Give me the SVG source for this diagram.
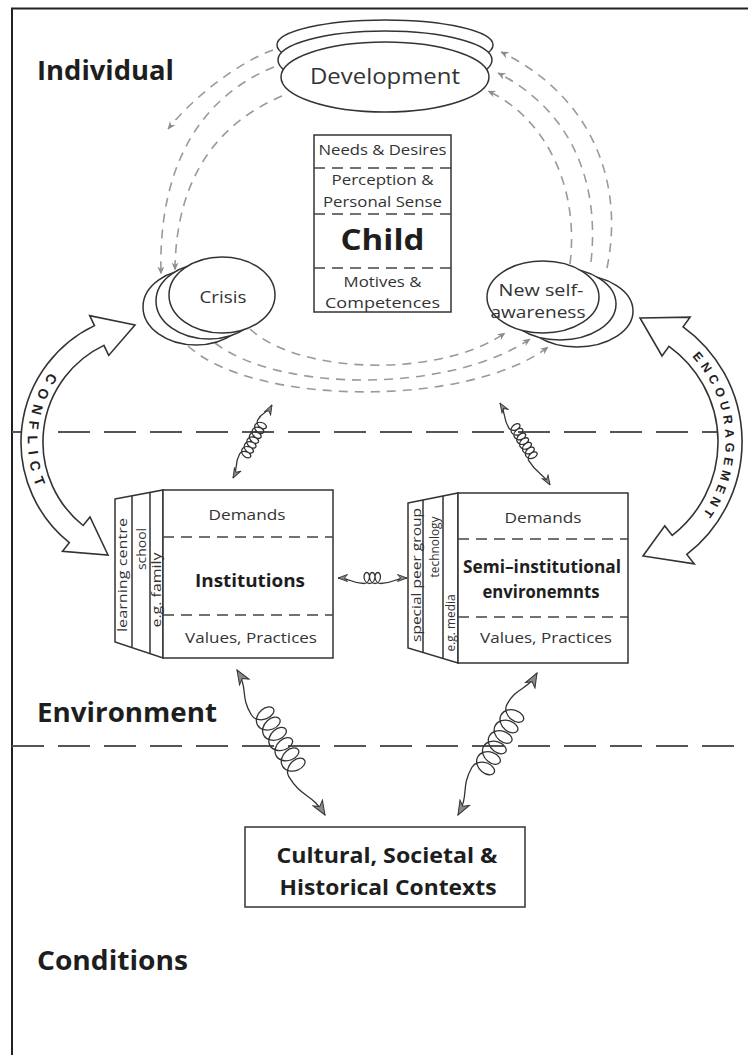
<svg xmlns="http://www.w3.org/2000/svg" width="748" height="1055" viewBox="0 0 748 1055">
<defs>
<style>
.nd{fill:#fff;stroke:#333;stroke-width:1.5}
.div{stroke:#444;stroke-width:1.5;stroke-dasharray:11 7;fill:none}
.sec{stroke:#555;stroke-width:2;stroke-dasharray:32 14;fill:none}
.arc{fill:none;stroke:#9a9a9a;stroke-width:1.6;stroke-dasharray:9 7;marker-end:url(#tipDash)}
.coil{fill:none;stroke:#333;stroke-width:1.3}
.big{marker-start:url(#tipBig);marker-end:url(#tipBig)}
.sm{marker-start:url(#tipSmall);marker-end:url(#tipSmall)}
.band{fill:#fff;stroke:#333;stroke-width:1.6}
text{font-family:"Open Sans","Liberation Sans",sans-serif;fill:#333}
.b{font-weight:700;fill:#1e1e1e}
.m{text-anchor:middle}
.hd{font-size:26px}
.r15{font-size:15px}
.sp{font-size:12px}
.cap{font-family:"Liberation Sans",Arial,sans-serif;font-weight:700;fill:#222}
</style>
<marker id="tipDash" viewBox="0 0 8 7" refX="7.5" refY="3.5" markerWidth="8" markerHeight="7" markerUnits="userSpaceOnUse" orient="auto"><path d="M0,0 L8,3.5 L0,7 L2.5,3.5 Z" fill="#8c8c8c"/></marker>
<marker id="tipBig" viewBox="-1 -1 16 13" refX="14" refY="5.5" markerWidth="16" markerHeight="13" markerUnits="userSpaceOnUse" orient="auto-start-reverse"><path d="M0,0 L14,5.5 L0,11 L4,5.5 Z" fill="#8a8a8a" stroke="#333" stroke-width="1"/></marker>
<marker id="tipSmall" viewBox="-1 -1 11 9" refX="9.5" refY="3.5" markerWidth="11" markerHeight="9" markerUnits="userSpaceOnUse" orient="auto-start-reverse"><path d="M0,0 L9.5,3.5 L0,7 L3,3.5 Z" fill="#8a8a8a" stroke="#333" stroke-width="0.9"/></marker>
<!-- baselines for the curved captions -->
<path id="conflictPath" d="M108.3,327.3 A122,122 0 0 0 89,547.7"/>
<path id="encPath" d="M642.9,324 A125.5,125.5 0 0 1 655,554.8"/>
</defs>

<rect width="748" height="1055" fill="#fff"/>

<!-- frame and layer separators -->
<g id="frame">
<path d="M12,1055V8.5H748" fill="none" stroke="#222" stroke-width="2"/>
<path class="sec" d="M12,432H748M12,746H748"/>
</g>

<!-- layer titles -->
<g id="layer-labels">
<text class="b hd" x="37" y="80" textLength="137" lengthAdjust="spacingAndGlyphs">Individual</text>
<text class="b hd" x="37" y="722" textLength="180" lengthAdjust="spacingAndGlyphs">Environment</text>
<text class="b hd" x="37" y="970" textLength="151" lengthAdjust="spacingAndGlyphs">Conditions</text>
</g>

<!-- developmental cycle: dashed arcs -->
<g id="cycle-connectors">
<path class="arc" d="M273,50 C240,62 195,95 168,129"/>
<path class="arc" d="M274,67 C205,95 158,160 161,274"/>
<path class="arc" d="M282,96 C225,120 176,170 175,270"/>
<path class="arc" d="M250,329 C300,375 440,378 505,333"/>
<path class="arc" d="M215,343 C280,393 450,393 530,339"/>
<path class="arc" d="M188,346 C255,407 470,407 548,347"/>
<path class="arc" d="M607,268 C625,180 590,95 501,52"/>
<path class="arc" d="M591,262 C600,180 570,110 498,73"/>
<path class="arc" d="M570,264 C580,180 540,115 488,91"/>
</g>

<g id="development">
<ellipse class="nd" cx="385" cy="45" rx="108" ry="25"/>
<ellipse class="nd" cx="385" cy="60" rx="107" ry="29"/>
<ellipse class="nd" cx="385" cy="77" rx="104" ry="35"/>
<text class="m" x="385" y="84" font-size="21" textLength="150" lengthAdjust="spacingAndGlyphs">Development</text>
</g>

<g id="child">
<rect class="nd" x="314" y="135" width="137" height="177"/>
<path class="div" d="M314,168H451M314,214H451M314,268H451"/>
<text class="m r15" x="382.5" y="155" textLength="128" lengthAdjust="spacingAndGlyphs">Needs &amp; Desires</text>
<text class="m r15" x="382.5" y="185" textLength="102" lengthAdjust="spacingAndGlyphs">Perception &amp;</text>
<text class="m r15" x="382.5" y="207" textLength="119" lengthAdjust="spacingAndGlyphs">Personal Sense</text>
<text class="m b" x="382.5" y="250" font-size="28" textLength="84" lengthAdjust="spacingAndGlyphs">Child</text>
<text class="m r15" x="382.5" y="287" textLength="78" lengthAdjust="spacingAndGlyphs">Motives &amp;</text>
<text class="m r15" x="382.5" y="308" textLength="115" lengthAdjust="spacingAndGlyphs">Competences</text>
</g>

<g id="crisis">
<ellipse class="nd" cx="196" cy="307" rx="53" ry="38"/>
<ellipse class="nd" cx="209" cy="301" rx="53" ry="38"/>
<ellipse class="nd" cx="222" cy="295" rx="53" ry="38"/>
<text class="m" x="223" y="303" font-size="17" textLength="47" lengthAdjust="spacingAndGlyphs">Crisis</text>
</g>

<g id="new-self-awareness">
<ellipse class="nd" cx="577" cy="311" rx="56" ry="36"/>
<ellipse class="nd" cx="560" cy="304" rx="56" ry="36"/>
<ellipse class="nd" cx="543" cy="297" rx="56" ry="36"/>
<text class="m" x="541" y="296" font-size="17" textLength="85" lengthAdjust="spacingAndGlyphs">New self-</text>
<text class="m" x="538" y="318" font-size="17" textLength="95" lengthAdjust="spacingAndGlyphs">awareness</text>
</g>

<g id="institutions">
<path class="nd" d="M115,499 L163,490 L163,658 L115,642 Z"/>
<path fill="none" stroke="#333" stroke-width="1.5" d="M132,495.8V647.7M150,492.4V653.7"/>
<rect class="nd" x="163" y="490" width="170" height="168"/>
<path class="div" d="M163,537H333M163,615H333"/>
<text class="sp" transform="translate(127,575) rotate(-90)" text-anchor="middle" textLength="114" lengthAdjust="spacingAndGlyphs">learning centre</text>
<text class="sp" transform="translate(146,549) rotate(-90)" text-anchor="middle" textLength="42" lengthAdjust="spacingAndGlyphs">school</text>
<text class="sp" transform="translate(161,590) rotate(-90)" text-anchor="middle" textLength="75" lengthAdjust="spacingAndGlyphs">e.g. family</text>
<text class="m r15" x="247" y="520" textLength="77" lengthAdjust="spacingAndGlyphs">Demands</text>
<text class="m b" x="250" y="587" font-size="18" textLength="110" lengthAdjust="spacingAndGlyphs">Institutions</text>
<text class="m r15" x="251" y="643" textLength="132" lengthAdjust="spacingAndGlyphs">Values, Practices</text>
</g>

<g id="semi-institutional">
<path class="nd" d="M408,503 L458,493 L458,663 L408,648 Z"/>
<path fill="none" stroke="#333" stroke-width="1.5" d="M423,500V652.5M443,496V658.5"/>
<rect class="nd" x="458" y="493" width="170" height="170"/>
<path class="div" d="M458,539H628M458,617H628"/>
<text class="sp" transform="translate(421,575) rotate(-90)" text-anchor="middle" textLength="134" lengthAdjust="spacingAndGlyphs">special peer group</text>
<text class="sp" transform="translate(439,547) rotate(-90)" text-anchor="middle" textLength="61" lengthAdjust="spacingAndGlyphs">technology</text>
<text class="sp" transform="translate(455,623) rotate(-90)" text-anchor="middle" textLength="57" lengthAdjust="spacingAndGlyphs">e.g. media</text>
<text class="m r15" x="543" y="523" textLength="77" lengthAdjust="spacingAndGlyphs">Demands</text>
<text class="m b" x="542" y="573" font-size="17" textLength="158" lengthAdjust="spacingAndGlyphs">Semi–institutional</text>
<text class="m b" x="541" y="598" font-size="17" textLength="117" lengthAdjust="spacingAndGlyphs">environemnts</text>
<text class="m r15" x="546" y="643" textLength="132" lengthAdjust="spacingAndGlyphs">Values, Practices</text>
</g>

<g id="contexts">
<rect class="nd" x="245" y="827" width="280" height="80"/>
<text class="m b" x="387" y="863" font-size="21" textLength="221" lengthAdjust="spacingAndGlyphs">Cultural, Societal &amp;</text>
<text class="m b" x="388" y="895" font-size="21" textLength="217" lengthAdjust="spacingAndGlyphs">Historical Contexts</text>
</g>

<!-- interaction links: coiled double arrows and curved block arrows -->
<g id="connectors">
<path class="coil sm" transform="translate(272,405) rotate(118.1)" d="M0,0 C10,0 10,5.5 20,5.5 c2.68,0 4.89,-2.48 5.38,-5.5 c0.48,-3.03 -0.91,-5.5 -2.63,-5.5 c-1.72,0 -3.11,2.48 -2.63,5.5 c0.48,3.03 2.7,5.5 5.38,5.5 c2.68,0 4.89,-2.48 5.38,-5.5 c0.48,-3.03 -0.91,-5.5 -2.63,-5.5 c-1.72,0 -3.11,2.48 -2.63,5.5 c0.48,3.03 2.7,5.5 5.38,5.5 c2.68,0 4.89,-2.48 5.38,-5.5 c0.48,-3.03 -0.91,-5.5 -2.63,-5.5 c-1.72,0 -3.11,2.48 -2.63,5.5 c0.48,3.03 2.7,5.5 5.38,5.5 c2.68,0 4.89,-2.48 5.38,-5.5 c0.48,-3.03 -0.91,-5.5 -2.63,-5.5 c-1.72,0 -3.11,2.48 -2.63,5.5 c0.48,3.03 2.7,5.5 5.38,5.5 c2.68,0 4.89,-2.48 5.38,-5.5 c0.48,-3.03 -0.91,-5.5 -2.63,-5.5 c-1.72,0 -3.11,2.48 -2.63,5.5 c0.48,3.03 2.7,5.5 5.38,5.5 c2.68,0 4.89,-2.48 5.38,-5.5 c0.48,-3.03 -0.91,-5.5 -2.63,-5.5 c-1.72,0 -3.11,2.48 -2.63,5.5 c0.48,3.03 2.7,5.5 5.38,5.5 c2.68,0 4.89,-2.48 5.38,-5.5 c0.48,-3.03 -0.91,-5.5 -2.63,-5.5 c-1.72,0 -3.11,2.48 -2.63,5.5 c0.48,3.03 2.7,5.5 5.38,5.5 C70.65,5.5 70.65,0 82.8,0"/>
<path class="coil sm" transform="translate(500,403) rotate(58.6)" d="M0,0 C13,0 13,5.5 26,5.5 c2.68,0 4.89,-2.48 5.38,-5.5 c0.48,-3.03 -0.91,-5.5 -2.63,-5.5 c-1.72,0 -3.11,2.48 -2.63,5.5 c0.48,3.03 2.7,5.5 5.38,5.5 c2.68,0 4.89,-2.48 5.38,-5.5 c0.48,-3.03 -0.91,-5.5 -2.63,-5.5 c-1.72,0 -3.11,2.48 -2.63,5.5 c0.48,3.03 2.7,5.5 5.38,5.5 c2.68,0 4.89,-2.48 5.38,-5.5 c0.48,-3.03 -0.91,-5.5 -2.63,-5.5 c-1.72,0 -3.11,2.48 -2.63,5.5 c0.48,3.03 2.7,5.5 5.38,5.5 c2.68,0 4.89,-2.48 5.38,-5.5 c0.48,-3.03 -0.91,-5.5 -2.63,-5.5 c-1.72,0 -3.11,2.48 -2.63,5.5 c0.48,3.03 2.7,5.5 5.38,5.5 c2.68,0 4.89,-2.48 5.38,-5.5 c0.48,-3.03 -0.91,-5.5 -2.63,-5.5 c-1.72,0 -3.11,2.48 -2.63,5.5 c0.48,3.03 2.7,5.5 5.38,5.5 c2.68,0 4.89,-2.48 5.38,-5.5 c0.48,-3.03 -0.91,-5.5 -2.63,-5.5 c-1.72,0 -3.11,2.48 -2.63,5.5 c0.48,3.03 2.7,5.5 5.38,5.5 c2.68,0 4.89,-2.48 5.38,-5.5 c0.48,-3.03 -0.91,-5.5 -2.63,-5.5 c-1.72,0 -3.11,2.48 -2.63,5.5 c0.48,3.03 2.7,5.5 5.38,5.5 C80.25,5.5 80.25,0 96,0"/>
<path class="coil sm" transform="translate(338,578)" d="M0,0 C13,0 13,5.5 26,5.5 c2.68,0 4.89,-2.48 5.38,-5.5 c0.48,-3.03 -0.91,-5.5 -2.63,-5.5 c-1.72,0 -3.11,2.48 -2.63,5.5 c0.48,3.03 2.7,5.5 5.38,5.5 c2.68,0 4.89,-2.48 5.38,-5.5 c0.48,-3.03 -0.91,-5.5 -2.63,-5.5 c-1.72,0 -3.11,2.48 -2.63,5.5 c0.48,3.03 2.7,5.5 5.38,5.5 c2.68,0 4.89,-2.48 5.38,-5.5 c0.48,-3.03 -0.91,-5.5 -2.63,-5.5 c-1.72,0 -3.11,2.48 -2.63,5.5 c0.48,3.03 2.7,5.5 5.38,5.5 C55.75,5.5 55.75,0 69,0"/>
<path class="coil big" transform="translate(237,670) rotate(58.75)" d="M0,0 C23,0 23,11 46,11 c5.45,0 9.95,-4.95 11,-11 c1.05,-6.05 -1.65,-11 -5,-11 c-3.35,0 -6.05,4.95 -5,11 c1.05,6.05 5.55,11 11,11 c5.45,0 9.95,-4.95 11,-11 c1.05,-6.05 -1.65,-11 -5,-11 c-3.35,0 -6.05,4.95 -5,11 c1.05,6.05 5.55,11 11,11 c5.45,0 9.95,-4.95 11,-11 c1.05,-6.05 -1.65,-11 -5,-11 c-3.35,0 -6.05,4.95 -5,11 c1.05,6.05 5.55,11 11,11 c5.45,0 9.95,-4.95 11,-11 c1.05,-6.05 -1.65,-11 -5,-11 c-3.35,0 -6.05,4.95 -5,11 c1.05,6.05 5.55,11 11,11 c5.45,0 9.95,-4.95 11,-11 c1.05,-6.05 -1.65,-11 -5,-11 c-3.35,0 -6.05,4.95 -5,11 c1.05,6.05 5.55,11 11,11 c5.45,0 9.95,-4.95 11,-11 c1.05,-6.05 -1.65,-11 -5,-11 c-3.35,0 -6.05,4.95 -5,11 c1.05,6.05 5.55,11 11,11 C143.8,11 143.8,0 169.6,0"/>
<path class="coil big" transform="translate(537,673) rotate(119.1)" d="M0,0 C21,0 21,11 42,11 c5.45,0 9.95,-4.95 11,-11 c1.05,-6.05 -1.65,-11 -5,-11 c-3.35,0 -6.05,4.95 -5,11 c1.05,6.05 5.55,11 11,11 c5.45,0 9.95,-4.95 11,-11 c1.05,-6.05 -1.65,-11 -5,-11 c-3.35,0 -6.05,4.95 -5,11 c1.05,6.05 5.55,11 11,11 c5.45,0 9.95,-4.95 11,-11 c1.05,-6.05 -1.65,-11 -5,-11 c-3.35,0 -6.05,4.95 -5,11 c1.05,6.05 5.55,11 11,11 c5.45,0 9.95,-4.95 11,-11 c1.05,-6.05 -1.65,-11 -5,-11 c-3.35,0 -6.05,4.95 -5,11 c1.05,6.05 5.55,11 11,11 c5.45,0 9.95,-4.95 11,-11 c1.05,-6.05 -1.65,-11 -5,-11 c-3.35,0 -6.05,4.95 -5,11 c1.05,6.05 5.55,11 11,11 c5.45,0 9.95,-4.95 11,-11 c1.05,-6.05 -1.65,-11 -5,-11 c-3.35,0 -6.05,4.95 -5,11 c1.05,6.05 5.55,11 11,11 C138.2,11 138.2,0 162.5,0"/>

<!-- conflict: crisis <-> institutions -->
<path class="band" d="M135,325 L108.7,355.4 L103.9,345.4 A107,107 0 0 0 83.1,525.5 L90,516.9 L108,555 L62.5,551.3 L69.3,542.7 A129,129 0 0 1 94.5,325.6 L89.7,315.6 Z"/>
<text class="cap" font-size="14" letter-spacing="7"><textPath href="#conflictPath" startOffset="50%" text-anchor="middle">CONFLICT</textPath></text>

<!-- encouragement: new self-awareness <-> semi-institutional environments -->
<path class="band" d="M640,318 L690.1,317.1 L683.1,326.8 A142,142 0 0 1 686.8,554.4 L694.2,563.8 L643,556 L664.8,525.9 L672.2,535.4 A118,118 0 0 0 669,346.3 L662,356 Z"/>
<text class="cap" font-size="12.5" letter-spacing="4.5"><textPath href="#encPath" startOffset="50%" text-anchor="middle">ENCOURAGEMENT</textPath></text>
</g>
</svg>
